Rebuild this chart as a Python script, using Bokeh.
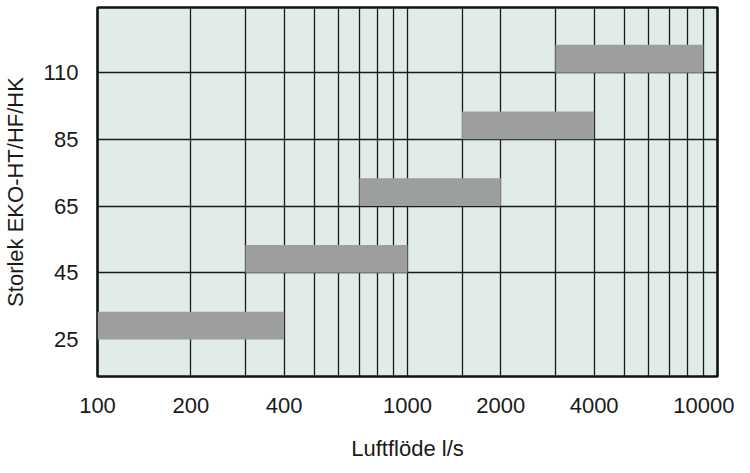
from bokeh.plotting import figure
from bokeh.models import FixedTicker, Range1d, ColumnDataSource
from bokeh.embed import file_html
from bokeh.resources import INLINE

# ---- data ----
sizes = ["25", "45", "65", "85", "110"]
flow_min = [100, 300, 700, 1500, 3000]
flow_max = [400, 1000, 2000, 4000, 9000]

x_tick_values = [100, 200, 400, 1000, 2000, 4000, 10000]
x_grid_values = [200, 300, 400, 500, 600, 700, 800, 900, 1000, 1500,
                 2000, 3000, 4000, 5000, 6000, 7000, 8000, 9000]

# ---- styles ----
BG = "#e2ece7"
BAR = "#9d9e9f"
FONT = "Liberation Sans"
BAR_H = 0.418

pos = list(range(len(sizes)))
src = ColumnDataSource(dict(
    left=flow_min, right=flow_max,
    bottom=pos, top=[p_ + BAR_H for p_ in pos],
))

p = figure(width=734, height=463, x_axis_type="log",
           x_range=Range1d(100, 10000), y_range=Range1d(-0.554, 4.976),
           output_backend="svg", toolbar_location=None,
           min_border_left=95, min_border_right=17,
           min_border_top=7, min_border_bottom=86)

p.background_fill_color = BG
p.border_fill_color = "white"
p.outline_line_color = "#111111"
p.outline_line_width = 2.6

p.quad(left="left", right="right", bottom="bottom", top="top", source=src,
       fill_color=BAR, line_color=None)

# grids
p.xgrid.ticker = FixedTicker(ticks=x_grid_values)
p.xgrid.grid_line_color = "#1a1a1a"
p.xgrid.grid_line_width = 1.3
p.ygrid.ticker = FixedTicker(ticks=pos[1:])
p.ygrid.grid_line_color = "#1a1a1a"
p.ygrid.grid_line_width = 1.3

# x axis
p.xaxis.ticker = FixedTicker(ticks=x_tick_values)
p.xaxis.major_label_overrides = {v: str(v) for v in x_tick_values}
p.xaxis.axis_label = "Luftflöde l/s"
# y axis
p.yaxis.ticker = FixedTicker(ticks=pos)
p.yaxis.major_label_overrides = {i: s for i, s in zip(pos, sizes)}
p.yaxis.axis_label = "Storlek EKO-HT/HF/HK"

for ax in (p.xaxis[0], p.yaxis[0]):
    ax.axis_line_color = None
    ax.major_tick_line_color = None
    ax.minor_tick_line_color = None
    ax.major_label_text_font = FONT
    ax.major_label_text_font_size = "22px"
    ax.major_label_text_color = "#1a1a1a"
    ax.axis_label_text_font = FONT
    ax.axis_label_text_font_size = "22px"
    ax.axis_label_text_font_style = "normal"
    ax.axis_label_text_color = "#1a1a1a"

p.xaxis.major_label_standoff = 15
p.xaxis.axis_label_standoff = 20
p.yaxis.major_label_standoff = 13
p.yaxis.axis_label_standoff = 12

open("out.html", "w").write(file_html(p, INLINE))
